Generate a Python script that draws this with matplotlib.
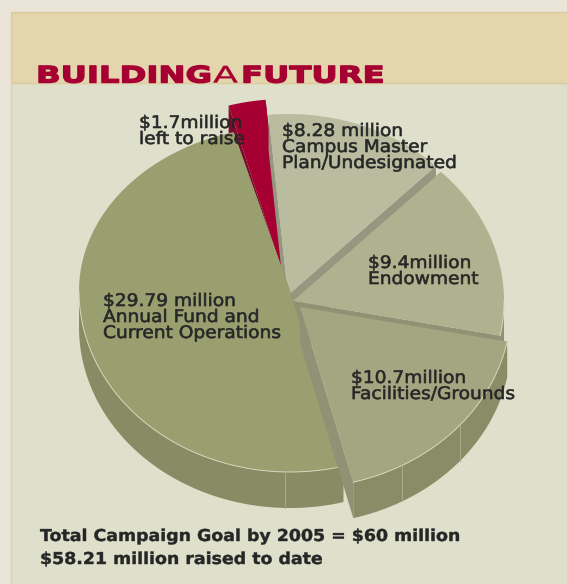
import numpy as np
import matplotlib
matplotlib.use("Agg")
import matplotlib.pyplot as plt
from matplotlib.patches import Polygon, Rectangle
from matplotlib.transforms import Affine2D
import matplotlib.patheffects as pe

# ---- data ----
categories = ["Annual Fund and Current Operations", "Facilities/Grounds", "Endowment",
              "Campus Master Plan/Undesignated", "left to raise"]
values = [29.79, 10.7, 9.4, 8.28, 1.7]
title_parts = ["BUILDING", "A", "FUTURE"]
slice_labels = [
    ["$29.79 million", "Annual Fund and", "Current Operations"],
    ["$10.7million", "Facilities/Grounds"],
    ["$9.4million", "Endowment"],
    ["$8.28 million", "Campus Master", "Plan/Undesignated"],
    ["$1.7million", "left to raise"],
]
footer_lines = ["Total Campaign Goal by 2005 = $60 million", "$58.21 million raised to date"]

# ---- style ----
W, H = 567, 584
top_colors = ["#9a9f70", "#a3a680", "#b0b28f", "#babca0", "#a60033"]
side_colors = ["#888b63", "#8a8c68", "#8f9275", "#989a80", "#7a0c2b"]
wall_colors = ["#888b63", "#8f9275", "#8f9275", "#959780", "#7a0c2b"]
tips = [(290, 291), (300, 307), (293, 301), (288, 295), (285, 280)]
back_ry = [165, 181, 181, 181, 181]
label_pos = [(103, 306), (351, 383), (368, 268), (282, 136), (139, 128)]
draw_order = [4, 3, 2, 0, 1]
RX, RY, DEPTH = 211, 181, 36
START = 105.5

fig = plt.figure(figsize=(W / 100, H / 100), dpi=100, facecolor="#ebe4d9")
ax = fig.add_axes([0, 0, 1, 1])
ax.set_xlim(0, W)
ax.set_ylim(H, 0)
ax.axis("off")

ax.add_patch(Rectangle((11, 83), W, H, fc="#dfe0cc", ec="#e0d3ab", lw=1, zorder=0))
ax.add_patch(Rectangle((11, 12), W, 71, fc="#e3d6ac", ec="#dccb9f", lw=1, zorder=0.5))


def pts(i, a0, a1, n=120, dy=0):
    tip = tips[i]
    t = np.radians(np.linspace(a0, a1, n))
    s = np.sin(t)
    ry = np.where(s > 0, back_ry[i], RY)
    return np.column_stack([tip[0] + RX * np.cos(t), tip[1] - ry * s + dy])


sweeps = np.array(values) / sum(values) * 360
starts = START + np.concatenate([[0], np.cumsum(sweeps)[:-1]])
z = 2
seams = {0: [268.6], 1: [299.0, 319.5]}

for i in draw_order:
    a0, a1 = starts[i], starts[i] + sweeps[i]
    tip = tips[i]
    for a in (a0, a1):
        rim = pts(i, a, a, 1)[0]
        ax.add_patch(Polygon([tip, rim, rim + [0, DEPTH], (tip[0], tip[1] + DEPTH)],
                             fc=wall_colors[i], ec="none", zorder=z))
        z += 1
    ranges = []
    for k in (-360, 0, 360):
        l, h = max(a0 + k, 180), min(a1 + k, 360)
        if h > l:
            ranges.append((l, h))
    for l, h in ranges:
        up = pts(i, l, h)
        down = pts(i, h, l, dy=DEPTH)
        ax.add_patch(Polygon(np.vstack([up, down]), fc=side_colors[i], ec="none", zorder=z))
        z += 1
    ax.add_patch(Polygon(np.vstack([[tip], pts(i, a0, a1)]), fc=top_colors[i], ec="none", zorder=z))
    z += 1
    for l, h in ranges:
        r = pts(i, l, h)
        ax.plot(r[:, 0], r[:, 1], color="#d5d6bd", lw=0.7, zorder=z)
    for a in seams.get(i, []):
        s = pts(i, a, a, 1)[0]
        ax.plot([s[0], s[0]], [s[1], s[1] + DEPTH], color="#a9ab8c", lw=0.7, zorder=z)
    z += 1


class Widen(pe.AbstractPathEffect):
    """Widen and embolden glyph outlines about an anchor; the text stays real text."""
    def __init__(self, x0, sx, stroke, color):
        super().__init__()
        self.x0, self.sx, self.stroke, self.color = x0, sx, stroke, color

    def draw_path(self, renderer, gc, tpath, affine, rgbFace=None):
        t = affine + Affine2D().translate(-self.x0, 0).scale(self.sx, 1).translate(self.x0, 0)
        g = renderer.new_gc()
        g.copy_properties(gc)
        g.set_linewidth(self.stroke)
        g.set_foreground(self.color)
        renderer.draw_path(g, tpath, t, rgbFace)
        g.restore()


def put(x, y, s, size, weight="normal", color="#262626", sx=1.0, stroke=0.3):
    tx = ax.text(x, y, s, fontsize=size, fontweight=weight, color=color, va="baseline",
                 ha="left", family="DejaVu Sans", zorder=500)
    tx.set_path_effects([Widen(x, sx, stroke, color)])
    return tx


RED = "#a60033"
put(36, 82.5, title_parts[0], 16.4, "bold", RED, sx=1.42, stroke=1.0)
put(213, 82.5, title_parts[1], 16.4, "normal", RED, sx=1.6, stroke=0.2)
put(241, 82.5, title_parts[2], 16.4, "bold", RED, sx=1.42, stroke=1.0)

for (x, y), lines in zip(label_pos, slice_labels):
    for j, line in enumerate(lines):
        put(x, y + j * 16, line, 12.4, sx=1.08, stroke=0.45)

put(40, 541, footer_lines[0], 11.8, "bold", sx=1.06, stroke=0.3)
put(40, 564, footer_lines[1], 11.8, "bold", sx=1.06, stroke=0.3)

fig.savefig("out.png", dpi=100, facecolor=fig.get_facecolor())
